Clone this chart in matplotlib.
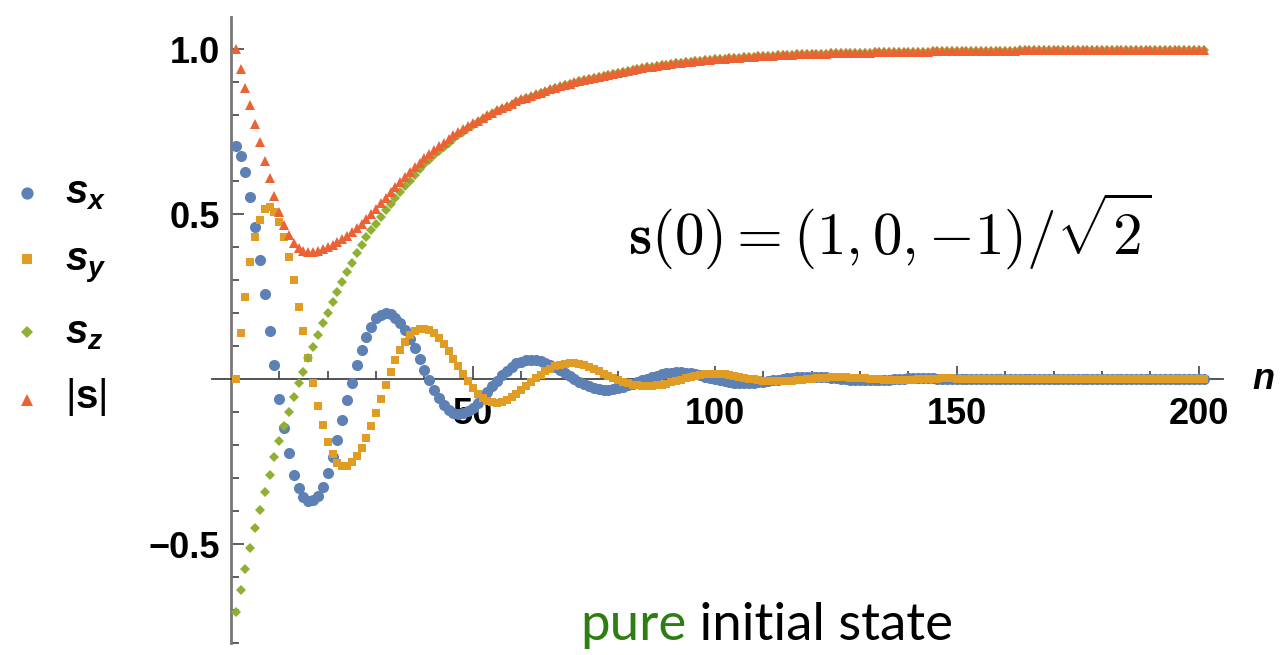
import matplotlib.pyplot as plt
from matplotlib.lines import Line2D
from matplotlib.ticker import FixedLocator

plt.rcParams['font.family'] = ['Liberation Sans', 'DejaVu Sans']
plt.rcParams['mathtext.fontset'] = 'custom'
plt.rcParams['mathtext.it'] = 'Liberation Sans:italic:bold'
plt.rcParams['mathtext.bf'] = 'Liberation Sans:bold'
plt.rcParams['mathtext.rm'] = 'Liberation Sans'

# step index (n = 0 .. 200 is drawn at positions 1 .. 201)
n = list(range(1, 202))

sx = [
    0.707, 0.675, 0.628, 0.552, 0.462, 0.361, 0.257, 0.145, 0.042, -0.062,
    -0.149, -0.225, -0.291, -0.331, -0.357, -0.370, -0.368, -0.355, -0.326, -0.284,
    -0.235, -0.185, -0.124, -0.064, -0.011, 0.042, 0.088, 0.128, 0.158, 0.184,
    0.195, 0.199, 0.196, 0.186, 0.170, 0.148, 0.122, 0.093, 0.060, 0.027,
    -0.003, -0.033, -0.058, -0.078, -0.093, -0.102, -0.105, -0.103, -0.097, -0.087,
    -0.073, -0.057, -0.040, -0.022, -0.005, 0.011, 0.025, 0.037, 0.047, 0.053,
    0.057, 0.058, 0.058, 0.055, 0.050, 0.043, 0.035, 0.026, 0.017, 0.008,
    -0.001, -0.009, -0.016, -0.022, -0.027, -0.030, -0.032, -0.032, -0.031, -0.028,
    -0.024, -0.019, -0.014, -0.009, -0.004, 0.001, 0.006, 0.010, 0.014, 0.017,
    0.019, 0.020, 0.020, 0.019, 0.017, 0.014, 0.011, 0.007, 0.003, 0.000,
    -0.003, -0.006, -0.009, -0.011, -0.012, -0.012, -0.012, -0.011, -0.010, -0.008,
    -0.006, -0.004, -0.002, 0.000, 0.002, 0.004, 0.005, 0.006, 0.007, 0.007,
    0.007, 0.006, 0.005, 0.004, 0.002, 0.001, -0.001, -0.002, -0.003, -0.004,
    -0.004, -0.004, -0.004, -0.004, -0.003, -0.002, -0.001, 0.000, 0.001, 0.002,
    0.002, 0.002, 0.002, 0.002, 0.002, 0.001, 0.000, -0.001, -0.001, -0.001,
    -0.001, -0.001, -0.001, -0.001, 0.000, 0.000, 0.001, 0.001, 0.001, 0.001,
    0.001, 0.000, 0.000, 0.000, 0.000, -0.001, -0.001, 0.000, 0.000, 0.000,
    0.000, 0.000, 0.000, 0.000, 0.000, 0.000, 0.000, 0.000, 0.000, 0.000,
    0.000, 0.000, 0.000, 0.000, 0.000, 0.000, 0.000, 0.000, 0.000, 0.000,
    0.000, 0.000, 0.000, 0.000, 0.000, 0.000, 0.000, 0.000, 0.000, 0.000,
    0.000,
]

sy = [
    0.000, 0.138, 0.249, 0.354, 0.429, 0.482, 0.514, 0.520, 0.507, 0.477,
    0.431, 0.371, 0.300, 0.217, 0.146, 0.065, -0.013, -0.082, -0.139, -0.190,
    -0.228, -0.254, -0.265, -0.264, -0.252, -0.233, -0.210, -0.178, -0.143, -0.104,
    -0.061, -0.019, 0.021, 0.057, 0.088, 0.113, 0.133, 0.146, 0.152, 0.153,
    0.148, 0.138, 0.124, 0.106, 0.085, 0.062, 0.038, 0.015, -0.007, -0.027,
    -0.044, -0.057, -0.066, -0.071, -0.072, -0.070, -0.064, -0.056, -0.045, -0.034,
    -0.022, -0.010, 0.002, 0.013, 0.023, 0.031, 0.038, 0.043, 0.046, 0.047,
    0.047, 0.045, 0.041, 0.036, 0.030, 0.023, 0.016, 0.009, 0.002, -0.004,
    -0.009, -0.013, -0.017, -0.019, -0.021, -0.021, -0.021, -0.019, -0.017, -0.014,
    -0.010, -0.006, -0.002, 0.002, 0.006, 0.009, 0.012, 0.014, 0.015, 0.015,
    0.015, 0.014, 0.012, 0.010, 0.007, 0.004, 0.001, -0.001, -0.003, -0.005,
    -0.006, -0.007, -0.007, -0.007, -0.006, -0.005, -0.004, -0.002, -0.001, 0.001,
    0.002, 0.003, 0.004, 0.005, 0.005, 0.005, 0.005, 0.004, 0.004, 0.003,
    0.002, 0.001, 0.000, -0.001, -0.002, -0.002, -0.003, -0.003, -0.003, -0.002,
    -0.002, -0.001, -0.001, 0.000, 0.001, 0.001, 0.002, 0.002, 0.002, 0.001,
    0.001, 0.001, 0.000, 0.000, -0.001, -0.001, -0.001, -0.001, 0.000, 0.000,
    0.000, 0.000, 0.000, 0.000, 0.000, 0.000, 0.000, 0.000, 0.000, 0.000,
    0.000, 0.000, 0.000, 0.000, 0.000, 0.000, 0.000, 0.000, 0.000, 0.000,
    0.000, 0.000, 0.000, 0.000, 0.000, 0.000, 0.000, 0.000, 0.000, 0.000,
    0.000, 0.000, 0.000, 0.000, 0.000, 0.000, 0.000, 0.000, 0.000, 0.000,
    0.000,
]

sz = [
    -0.707, -0.640, -0.577, -0.513, -0.453, -0.397, -0.341, -0.290, -0.237, -0.187,
    -0.142, -0.099, -0.054, -0.013, 0.022, 0.063, 0.098, 0.133, 0.169, 0.201,
    0.234, 0.265, 0.295, 0.325, 0.353, 0.381, 0.406, 0.430, 0.452, 0.471,
    0.491, 0.511, 0.531, 0.549, 0.567, 0.584, 0.601, 0.618, 0.635, 0.651,
    0.665, 0.678, 0.692, 0.704, 0.716, 0.728, 0.740, 0.750, 0.760, 0.770,
    0.778, 0.787, 0.795, 0.804, 0.811, 0.818, 0.825, 0.831, 0.838, 0.845,
    0.851, 0.856, 0.861, 0.866, 0.871, 0.876, 0.882, 0.886, 0.890, 0.894,
    0.898, 0.902, 0.905, 0.909, 0.912, 0.915, 0.918, 0.921, 0.924, 0.927,
    0.931, 0.933, 0.936, 0.939, 0.942, 0.944, 0.946, 0.948, 0.951, 0.953,
    0.955, 0.957, 0.959, 0.961, 0.962, 0.964, 0.965, 0.967, 0.968, 0.969,
    0.970, 0.971, 0.972, 0.973, 0.974, 0.975, 0.976, 0.977, 0.978, 0.979,
    0.980, 0.980, 0.981, 0.982, 0.982, 0.983, 0.984, 0.984, 0.985, 0.985,
    0.986, 0.986, 0.986, 0.987, 0.987, 0.987, 0.988, 0.988, 0.988, 0.989,
    0.989, 0.989, 0.990, 0.990, 0.990, 0.990, 0.991, 0.991, 0.991, 0.991,
    0.992, 0.992, 0.992, 0.992, 0.993, 0.993, 0.993, 0.993, 0.993, 0.994,
    0.994, 0.994, 0.994, 0.994, 0.994, 0.995, 0.995, 0.995, 0.995, 0.995,
    0.995, 0.995, 0.996, 0.996, 0.996, 0.996, 0.996, 0.996, 0.996, 0.996,
    0.997, 0.997, 0.997, 0.997, 0.997, 0.997, 0.997, 0.997, 0.997, 0.997,
    0.997, 0.997, 0.998, 0.998, 0.998, 0.998, 0.998, 0.998, 0.998, 0.998,
    0.998, 0.998, 0.998, 0.998, 0.998, 0.998, 0.998, 0.998, 0.998, 0.998,
    0.998,
]

s_abs = [
    1.000, 0.940, 0.883, 0.830, 0.774, 0.718, 0.662, 0.609, 0.556, 0.505,
    0.466, 0.435, 0.412, 0.396, 0.388, 0.385, 0.386, 0.389, 0.393, 0.399,
    0.406, 0.414, 0.424, 0.434, 0.445, 0.457, 0.470, 0.485, 0.500, 0.516,
    0.532, 0.549, 0.566, 0.582, 0.598, 0.613, 0.628, 0.642, 0.656, 0.669,
    0.681, 0.693, 0.705, 0.716, 0.727, 0.738, 0.748, 0.757, 0.766, 0.775,
    0.783, 0.791, 0.799, 0.807, 0.814, 0.821, 0.828, 0.834, 0.841, 0.847,
    0.853, 0.858, 0.863, 0.868, 0.873, 0.878, 0.883, 0.887, 0.891, 0.895,
    0.899, 0.903, 0.906, 0.910, 0.913, 0.916, 0.919, 0.922, 0.925, 0.928,
    0.931, 0.934, 0.937, 0.939, 0.942, 0.944, 0.946, 0.948, 0.951, 0.953,
    0.955, 0.957, 0.959, 0.961, 0.962, 0.964, 0.965, 0.967, 0.968, 0.969,
    0.970, 0.971, 0.972, 0.973, 0.974, 0.975, 0.976, 0.977, 0.978, 0.979,
    0.980, 0.980, 0.981, 0.982, 0.982, 0.983, 0.984, 0.984, 0.985, 0.985,
    0.986, 0.986, 0.986, 0.987, 0.987, 0.987, 0.988, 0.988, 0.988, 0.989,
    0.989, 0.989, 0.990, 0.990, 0.990, 0.990, 0.991, 0.991, 0.991, 0.991,
    0.992, 0.992, 0.992, 0.992, 0.993, 0.993, 0.993, 0.993, 0.993, 0.994,
    0.994, 0.994, 0.994, 0.994, 0.994, 0.995, 0.995, 0.995, 0.995, 0.995,
    0.995, 0.995, 0.996, 0.996, 0.996, 0.996, 0.996, 0.996, 0.996, 0.996,
    0.997, 0.997, 0.997, 0.997, 0.997, 0.997, 0.997, 0.997, 0.997, 0.997,
    0.997, 0.997, 0.998, 0.998, 0.998, 0.998, 0.998, 0.998, 0.998, 0.998,
    0.998, 0.998, 0.998, 0.998, 0.998, 0.998, 0.998, 0.998, 0.998, 0.998,
    0.998,
]

labels = [r'$s_x$', r'$s_y$', r'$s_z$', r'$|\mathbf{s}|$']
markers = ['o', 's', 'D', '^']
colors = ['#5E81B5', '#E19C24', '#8FB032', '#EB6235']
sizes = [8.0, 6.0, 5.6, 7.8]

W, H = 1281, 655
fig = plt.figure(figsize=(W / 100, H / 100), dpi=100)
ax = fig.add_axes([212 / W, (H - 643) / H, (1223 - 212) / W, (643 - 17) / H])
ax.set_xlim(-3.9, 205)
ax.set_ylim(-0.8, 1.097)

for vals, m, c, ms in zip([sx, sy, sz, s_abs], markers, colors, sizes):
    ax.plot(n, vals, linestyle='none', marker=m, color=c, ms=ms, mew=0,
            clip_on=False, zorder=3)

# axes through the origin, Mathematica style
for side in ['top', 'right']:
    ax.spines[side].set_visible(False)
ax.spines['left'].set_position(('data', 0))
ax.spines['bottom'].set_position(('data', 0))
ax.spines['left'].set_color('#777777')
ax.spines['left'].set_linewidth(2)
ax.spines['bottom'].set_color('#444444')
ax.spines['bottom'].set_linewidth(1.3)

ax.xaxis.set_major_locator(FixedLocator([50, 100, 150, 200]))
ax.xaxis.set_minor_locator(FixedLocator(list(range(10, 201, 10))))
ax.yaxis.set_major_locator(FixedLocator([-0.5, 0.5, 1.0]))
ax.yaxis.set_minor_locator(FixedLocator([k / 10 for k in range(-8, 11) if k != 0]))
ax.set_xticklabels(['50', '100', '150', '200'])
ax.set_yticklabels(['\u22120.5', '0.5', '1.0'])
ax.tick_params(which='both', direction='in', color='#333333', width=1.1)
ax.tick_params(which='major', length=9.5, labelsize=26)
ax.tick_params(which='minor', length=6)
ax.tick_params(axis='x', which='major', pad=13)
ax.tick_params(axis='y', which='major', pad=8)
for lbl in ax.get_xticklabels() + ax.get_yticklabels():
    lbl.set_fontweight('bold')

ax.text(211, 0, 'n', fontsize=26, fontstyle='italic', fontweight='bold',
        ha='left', va='center')

ax.text(136.2, 0.376, r'$\mathbf{s}(0) = (1, 0, {-1})/\sqrt{2}$', fontsize=42.5,
        math_fontfamily='cm', ha='center', va='baseline')

# legend on the left of the plot
marker_y = [193, 259, 332, 400]
text_y = [203, 270, 343, 408]
for lab, m, c, ms, my, ty in zip(labels, markers, colors, sizes, marker_y, text_y):
    fig.add_artist(Line2D([27 / W], [1 - my / H], transform=fig.transFigure,
                          linestyle='none', marker=m, color=c, ms=ms * 1.1, mew=0))
    fig.text(65 / W, 1 - ty / H, lab, fontsize=29, ha='left', va='baseline')

t_pure = fig.text(580 / W, 1 - 640 / H, 'pure', fontsize=38, family='Lato',
                  color='#2E7D14', ha='left', va='baseline')
ax.annotate(' initial state', xy=(1, 0), xycoords=t_pure, fontsize=38,
            family='Lato', color='black', ha='left', va='bottom',
            annotation_clip=False)

fig.savefig('out.png', dpi=100)
